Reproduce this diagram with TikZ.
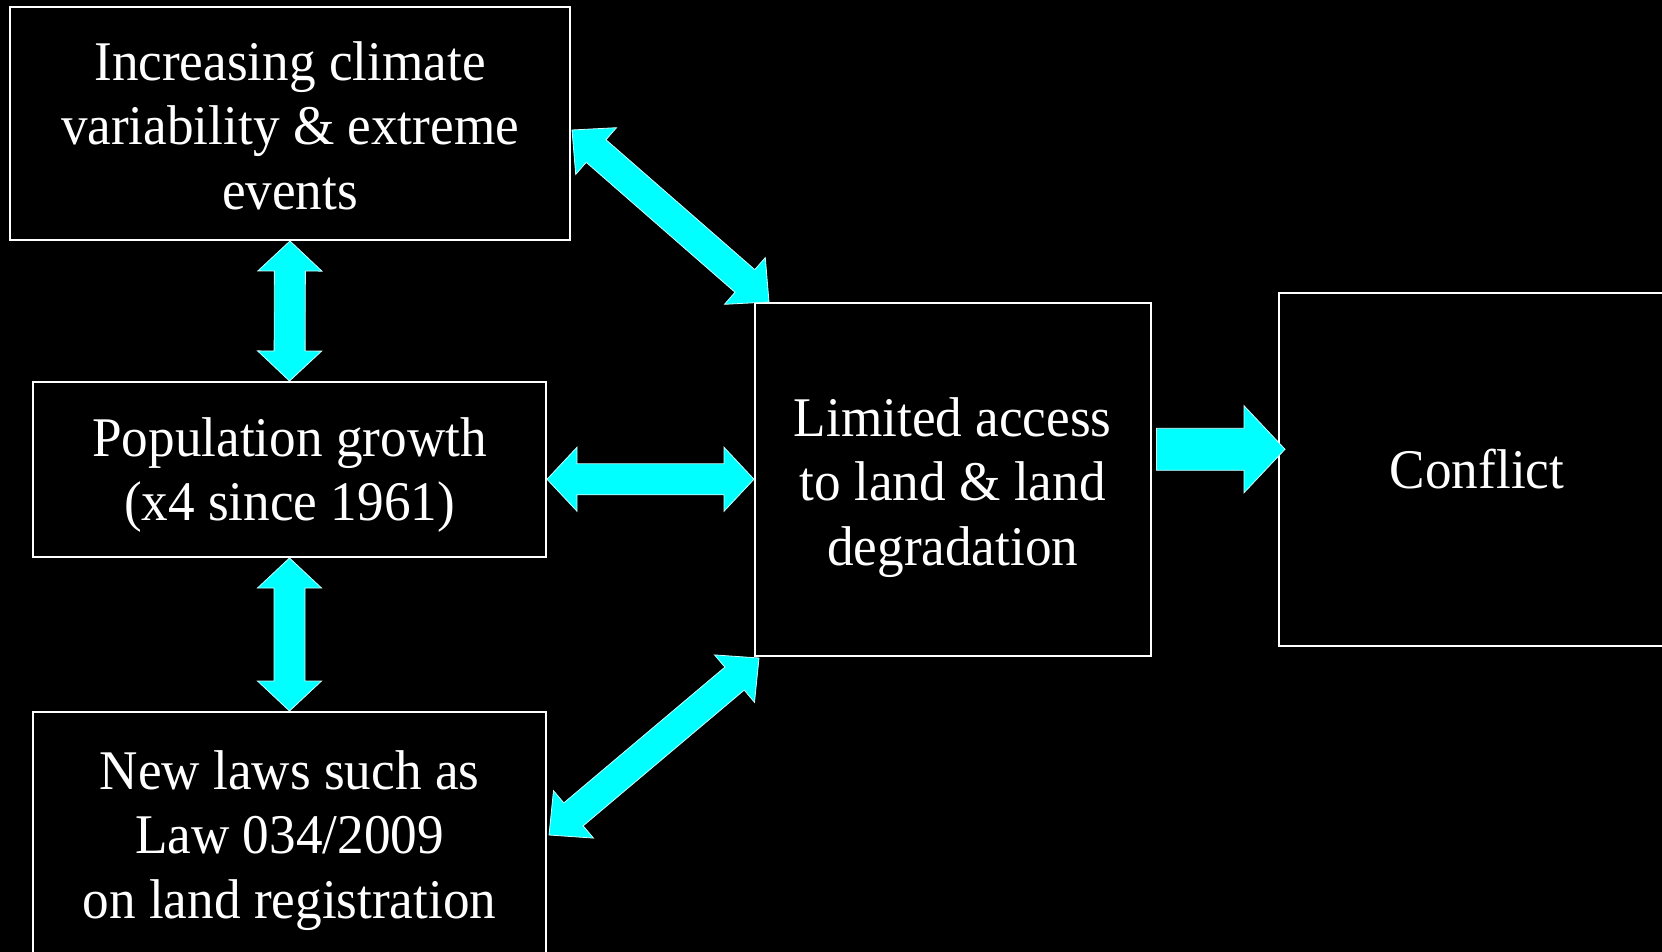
\documentclass[tikz,border=0pt]{standalone}
\usepackage{fontspec}
\setmainfont{Liberation Serif}[FakeStretch=0.95]
\usetikzlibrary{calc}
\definecolor{arrcyan}{HTML}{00FFFF}
\tikzset{
 box/.style={draw=white, line width=2pt, fill=black, text=white,
   font=\fontsize{56}{64.5}\selectfont, inner sep=0pt},
 arrowfill/.style={fill=arrcyan, draw=white!80!arrcyan, line width=0.8pt, line join=miter},
}
% text block lowered by #1 (keeping its reported size)
\newcommand\boxtext[2]{\raisebox{-#1}[\height][\depth]{\begin{tabular}{@{}c@{}}#2\end{tabular}}}
% #1 from, #2 to, #3 name prefix, #4 head length, #5 half head width, #6 half shaft width
\newcommand\dblarrow[6]{%
 \coordinate (#3a) at ($(#1)!#4!(#2)$);
 \coordinate (#3b) at ($(#2)!#4!(#1)$);
 \filldraw[arrowfill] (#1) -- ($(#3a)!#5!90:(#2)$) -- ($(#3a)!#6!90:(#2)$)
   -- ($(#3b)!#6!-90:(#1)$) -- ($(#3b)!#5!-90:(#1)$) -- (#2)
   -- ($(#3b)!#5!90:(#1)$) -- ($(#3b)!#6!90:(#1)$)
   -- ($(#3a)!#6!-90:(#2)$) -- ($(#3a)!#5!-90:(#2)$) -- cycle;
}
\begin{document}
\begin{tikzpicture}[x=1pt,y=-1pt]
\clip (0,0) rectangle (1662,952);
\useasboundingbox (0,0) rectangle (1662,952);
\fill[black] (0,0) rectangle (1662,952);

\node[box, minimum width=560, minimum height=233] (A) at (290,123.5)
  {\boxtext{8.5pt}{Increasing climate\\variability \& extreme\\events}};
\node[box, minimum width=513, minimum height=175] (B) at (289.5,469.5)
  {\boxtext{6pt}{Population growth\\(x4 since 1961)}};
\node[box, minimum width=513, minimum height=246] (C) at (289.5,835)
  {\boxtext{6pt}{New laws such as\\Law 034/2009\\on land registration}};
\node[box, minimum width=395.5, minimum height=352.5] (D) at (952.75,479.25)
  {\boxtext{8.5pt}{Limited access\\to land \& land\\degradation}};
\node[box, minimum width=396, minimum height=353] (E) at (1477,469.5)
  {\boxtext{6.5pt}{Conflict}};

% vertical double arrows
\dblarrow{A.south}{B.north}{ab}{30pt}{32pt}{15.5pt}
\dblarrow{B.south}{C.north}{bc}{30pt}{32pt}{15.5pt}
% horizontal double arrow
\coordinate (bd1) at (B.east |- D.west);
\dblarrow{bd1}{D.west}{bd}{30pt}{32pt}{15.5pt}
% diagonal double arrows
\coordinate (ad1) at ($(A.east)+(1,6.5)$);
\coordinate (ad2) at ($(D.north west)+(15,0)$);
\dblarrow{ad1}{ad2}{ad}{32pt}{31pt}{15pt}
\coordinate (cd1) at ($(C.east)+(2,0)$);
\coordinate (cd2) at ($(D.south west)+(5,1.5)$);
\dblarrow{cd1}{cd2}{cd}{32pt}{31pt}{15pt}

% single arrow D -> E
\coordinate (s1) at ($(D.east)+(5,-30)$);
\coordinate (s2) at ($(E.west |- s1)+(7,0)$);
\filldraw[arrowfill] ($(s1)+(0,-21)$) -- ($(s2)+(-41,-21)$) -- ($(s2)+(-41,-43.5)$)
  -- (s2) -- ($(s2)+(-41,43.5)$) -- ($(s2)+(-41,21)$) -- ($(s1)+(0,21)$) -- cycle;
\end{tikzpicture}
\end{document}
